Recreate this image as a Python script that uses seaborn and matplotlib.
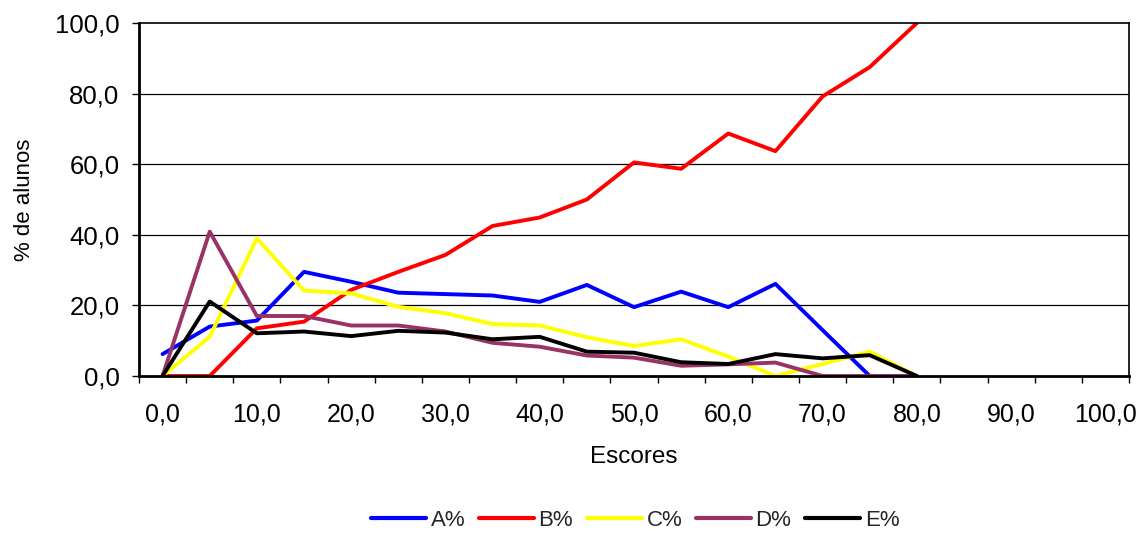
import numpy as np
import pandas as pd
import matplotlib
matplotlib.use("Agg")
import matplotlib.pyplot as plt
import seaborn as sns
from matplotlib.ticker import FixedLocator

# ---- data ----
escores = [0, 5, 10, 15, 20, 25, 30, 35, 40, 45, 50, 55, 60, 65, 70, 75, 80]
a_pct = [6.2, 14.0, 15.7, 29.5, 26.7, 23.6, 23.2, 22.8, 21.0, 25.8, 19.5, 23.9, 19.5, 26.1, 13.0, 0.0, 0.0]
b_pct = [0.0, 0.0, 13.5, 15.4, 24.4, 29.5, 34.3, 42.5, 44.9, 50.0, 60.5, 58.7, 68.7, 63.7, 79.2, 87.5, 100.0]
c_pct = [0.0, 11.1, 39.0, 24.2, 23.4, 19.6, 17.8, 14.7, 14.3, 11.0, 8.5, 10.4, 5.5, 0.0, 3.4, 6.9, 0.0]
d_pct = [0.0, 40.9, 17.0, 17.0, 14.3, 14.3, 12.6, 9.4, 8.3, 5.8, 5.2, 2.9, 3.3, 3.8, 0.0, 0.0, 0.0]
e_pct = [0.0, 21.1, 12.1, 12.6, 11.3, 12.8, 12.3, 10.4, 11.1, 6.9, 6.6, 3.9, 3.4, 6.2, 5.0, 5.9, 0.0]
series_names = ["A%", "B%", "C%", "D%", "E%"]
x_tick_values = [0, 10, 20, 30, 40, 50, 60, 70, 80, 90, 100]
x_tick_labels = ["0,0", "10,0", "20,0", "30,0", "40,0", "50,0", "60,0", "70,0", "80,0", "90,0", "100,0"]
y_tick_values = [0, 20, 40, 60, 80, 100]
y_tick_labels = ["0,0", "20,0", "40,0", "60,0", "80,0", "100,0"]

colors = ["#0000FF", "#FF0000", "#FFFF00", "#993366", "#000000"]

frames = []
for name, vals in zip(series_names, [a_pct, b_pct, c_pct, d_pct, e_pct]):
    frames.append(pd.DataFrame({"Escores": escores, "valor": vals, "serie": name}))
df = pd.concat(frames, ignore_index=True)

sns.set_theme(style="white")
plt.rcParams['font.family'] = ['Liberation Sans', 'DejaVu Sans']

fig = plt.figure(figsize=(11.47, 5.37), dpi=100)
ax = fig.add_axes([139/1147, 1 - 376/537, (1129 - 139)/1147, (376 - 23)/537])

sns.lineplot(data=df, x="Escores", y="valor", hue="serie", hue_order=series_names,
             palette=colors, linewidth=2.8, ax=ax, legend=True, sort=False)

ax.set_xlim(-2.5, 102.5)
ax.set_ylim(0, 100)

# gridlines
for yv in [20, 40, 60, 80]:
    ax.axhline(yv, color="#000000", linewidth=0.9, zorder=0.5)

# x ticks: labels at 0..100, tick marks at category boundaries
ax.xaxis.set_major_locator(FixedLocator(x_tick_values))
ax.set_xticklabels(x_tick_labels)
ax.xaxis.set_minor_locator(FixedLocator(np.arange(-2.5, 103, 5)))
ax.tick_params(axis="x", which="major", length=0, pad=19, labelsize=18, colors="black")
ax.tick_params(axis="x", which="minor", bottom=True, length=5, width=1, color="black", direction="out")

ax.set_yticks(y_tick_values)
ax.set_yticklabels(y_tick_labels)
ax.tick_params(axis="y", which="major", left=True, length=5, width=1, color="black",
               direction="out", pad=9, labelsize=18.5, labelcolor="black")

for side in ["left", "right", "top"]:
    ax.spines[side].set_visible(True)
    ax.spines[side].set_color("black")
    ax.spines[side].set_linewidth(1.2)
ax.spines["bottom"].set_color("black")
ax.spines["bottom"].set_linewidth(2.0)
ax.spines["left"].set_linewidth(2.0)

ax.set_xlabel("Escores", fontsize=17.5, color="black", labelpad=14)
ax.set_ylabel("% de alunos", fontsize=16, color="black", labelpad=14)

handles, labels = ax.get_legend_handles_labels()
ax.legend_.remove()
fig.legend(handles, labels, loc="center", bbox_to_anchor=(635/1147, 1 - 520/537),
           ncol=5, frameon=False, fontsize=16, handlelength=2.5, handletextpad=0.2,
           columnspacing=0.6)
for h in fig.legends[0].get_lines():
    h.set_linewidth(3)
    h.set_solid_capstyle("round")

fig.savefig("out.png", dpi=100)
